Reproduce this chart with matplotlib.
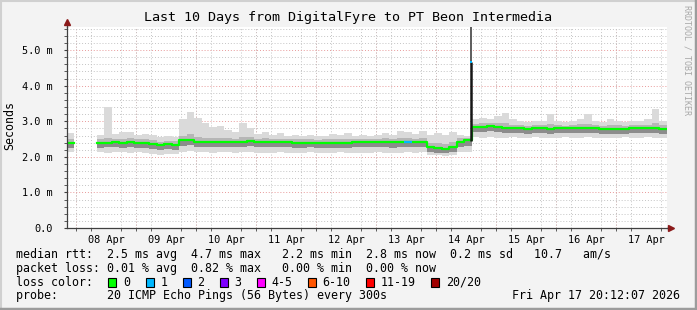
import numpy as np
import pandas as pd
import matplotlib
matplotlib.use('Agg')
import matplotlib.pyplot as plt
import matplotlib.dates as mdates
from matplotlib.ticker import MultipleLocator, FuncFormatter
from matplotlib.patches import Rectangle
from matplotlib.lines import Line2D

plt.rcParams['font.family'] = ['DejaVu Sans Mono']

nan = np.nan
start = pd.Timestamp('2026-04-07 20:12:07')
end = pd.Timestamp('2026-04-17 20:12:07')

# rtt in ms, one value per 3 hour bin (80 bins)
median_ms = [
    2.40, nan, nan, nan, 2.40, 2.40, 2.41, 2.40, 2.41, 2.40,
    2.40, 2.36, 2.34, 2.35, 2.34, 2.46, 2.47, 2.43, 2.42, 2.42,
    2.42, 2.42, 2.42, 2.43, 2.44, 2.42, 2.42, 2.41, 2.41, 2.41,
    2.40, 2.40, 2.40, 2.39, 2.40, 2.39, 2.40, 2.40, 2.41, 2.41,
    2.41, 2.41, 2.41, 2.41, 2.41, 2.41, 2.41, 2.42, 2.29, 2.24,
    2.22, 2.27, 2.43, 2.46, 2.85, 2.85, 2.87, 2.84, 2.82, 2.80,
    2.80, 2.79, 2.80, 2.80, 2.78, 2.80, 2.80, 2.80, 2.81, 2.80,
    2.80, 2.79, 2.78, 2.79, 2.79, 2.80, 2.80, 2.80, 2.81, 2.79]
max_ms = [
    2.67, nan, nan, nan, 2.62, 3.40, 2.65, 2.70, 2.70, 2.62,
    2.65, 2.62, 2.55, 2.58, 2.56, 3.05, 3.25, 3.10, 2.95, 2.85,
    2.87, 2.75, 2.70, 2.95, 2.80, 2.65, 2.70, 2.62, 2.68, 2.60,
    2.62, 2.60, 2.62, 2.58, 2.60, 2.65, 2.62, 2.66, 2.60, 2.62,
    2.60, 2.62, 2.68, 2.62, 2.72, 2.70, 2.65, 2.72, 2.62, 2.68,
    2.62, 2.70, 2.62, 2.60, 3.05, 3.10, 3.05, 3.15, 3.22, 3.05,
    3.00, 2.98, 3.02, 3.00, 3.20, 3.00, 2.98, 3.00, 3.05, 3.20,
    3.00, 2.98, 3.05, 3.00, 2.98, 3.00, 3.02, 3.05, 3.35, 3.00]
min_ms = [
    2.14, nan, nan, nan, 2.13, 2.12, 2.14, 2.13, 2.12, 2.13,
    2.12, 2.08, 2.06, 2.08, 2.08, 2.14, 2.16, 2.14, 2.13, 2.12,
    2.13, 2.14, 2.12, 2.13, 2.14, 2.12, 2.10, 2.12, 2.13, 2.12,
    2.12, 2.11, 2.13, 2.12, 2.10, 2.12, 2.13, 2.12, 2.11, 2.12,
    2.12, 2.13, 2.12, 2.11, 2.12, 2.13, 2.12, 2.13, 2.05, 2.04,
    2.03, 2.05, 2.14, 2.15, 2.55, 2.54, 2.55, 2.53, 2.54, 2.55,
    2.53, 2.54, 2.55, 2.54, 2.52, 2.54, 2.55, 2.53, 2.54, 2.55,
    2.54, 2.53, 2.52, 2.54, 2.55, 2.53, 2.54, 2.55, 2.54, 2.53]
q25_ms = [
    2.26, nan, nan, nan, 2.26, 2.27, 2.27, 2.26, 2.27, 2.26,
    2.26, 2.22, 2.20, 2.21, 2.20, 2.30, 2.32, 2.29, 2.28, 2.28,
    2.28, 2.28, 2.27, 2.29, 2.30, 2.28, 2.27, 2.27, 2.27, 2.27,
    2.26, 2.26, 2.27, 2.25, 2.26, 2.25, 2.26, 2.26, 2.27, 2.27,
    2.27, 2.27, 2.27, 2.26, 2.27, 2.27, 2.27, 2.28, 2.14, 2.12,
    2.10, 2.13, 2.29, 2.31, 2.70, 2.71, 2.72, 2.70, 2.68, 2.66,
    2.66, 2.65, 2.66, 2.66, 2.64, 2.66, 2.66, 2.66, 2.67, 2.66,
    2.66, 2.65, 2.64, 2.65, 2.65, 2.66, 2.66, 2.66, 2.67, 2.65]
q75_ms = [
    2.50, nan, nan, nan, 2.49, 2.52, 2.50, 2.51, 2.52, 2.49,
    2.50, 2.46, 2.43, 2.45, 2.44, 2.60, 2.63, 2.56, 2.54, 2.53,
    2.54, 2.52, 2.51, 2.56, 2.55, 2.51, 2.52, 2.50, 2.51, 2.50,
    2.49, 2.49, 2.50, 2.48, 2.49, 2.50, 2.49, 2.50, 2.50, 2.50,
    2.50, 2.50, 2.52, 2.50, 2.53, 2.52, 2.51, 2.53, 2.40, 2.40,
    2.36, 2.41, 2.52, 2.52, 2.93, 2.95, 2.95, 2.94, 2.94, 2.90,
    2.89, 2.88, 2.90, 2.89, 2.92, 2.89, 2.88, 2.89, 2.91, 2.92,
    2.89, 2.88, 2.89, 2.89, 2.88, 2.89, 2.90, 2.90, 2.95, 2.89]
lost = [0] * 80
lost[45] = 1

# short spike on 14 Apr
spike_time = pd.Timestamp('2026-04-14 14:00')
spike_low, spike_med, spike_max = 2.45, 4.66, 5.65

loss_labels = ['0', '1', '2', '3', '4-5', '6-10', '11-19', '20/20']
loss_colors = ['#00ff00', '#00b8ff', '#0059ff', '#7e00ff', '#ff00ff',
               '#ff5500', '#ff0000', '#a10000']

rtt_avg, rtt_max, rtt_min, rtt_now, rtt_sd, am_s = 2.5, 4.7, 2.2, 2.8, 0.2, 10.7
loss_avg, loss_max, loss_min, loss_now = 0.01, 0.82, 0.00, 0.00

edges = pd.date_range(start, end, periods=81).to_pydatetime()
left = mdates.date2num(edges[:-1])
width = np.diff(mdates.date2num(edges))


def band(lo, hi, color):
    lo = np.array(lo, dtype=float)
    hi = np.array(hi, dtype=float)
    ax.bar(left, hi - lo, bottom=lo, width=width, align='edge', color=color, lw=0)


W, H = 697, 310
fig = plt.figure(figsize=(W / 100, H / 100), dpi=100, facecolor='#f3f3f3')
ax = fig.add_axes([67 / W, 82 / H, 599.5 / W, 201 / H])
ax.set_facecolor('white')
ax.set_axisbelow(True)

# smoke
band(min_ms, max_ms, '#dadada')
band(q25_ms, q75_ms, '#b6b6b6')
band(q25_ms, median_ms, '#8c8c8c')
med_ext = np.append(median_ms, median_ms[-1])
ax.step(edges, med_ext, where='post', color=loss_colors[0], lw=1.6)
for i, n in enumerate(lost):
    if n > 0:
        ax.hlines(median_ms[i], edges[i], edges[i + 1], color=loss_colors[n], lw=1.6)

ax.vlines(spike_time, spike_low, spike_med, color='#161616', lw=1.8)
ax.vlines(spike_time, spike_med, spike_max, color='#505050', lw=1.3)
ax.plot([spike_time], [spike_med], marker='s', ms=1.8, color=loss_colors[1], mew=0)

ax.set_xlim(start, end)
ax.set_ylim(0, 5.65)

# grid
ax.yaxis.set_major_locator(MultipleLocator(1.0))
ax.yaxis.set_minor_locator(MultipleLocator(0.2))
ax.xaxis.set_major_locator(mdates.HourLocator(byhour=12))
ax.xaxis.set_minor_locator(mdates.HourLocator(byhour=[0, 6, 12, 18]))
ax.xaxis.set_major_formatter(mdates.DateFormatter('%d %b'))
ax.yaxis.set_major_formatter(FuncFormatter(lambda v, p: '0.0' if v == 0 else f'{v:.1f} m'))
ax.grid(which='minor', color='#c4c4c4', ls=(0, (1, 2)), lw=0.7)
ax.grid(which='major', axis='y', color='#e89a9a', ls=(0, (1, 2)), lw=0.7)
for d in pd.date_range('2026-04-08', '2026-04-17', freq='D'):
    ax.axvline(d, color='#e89a9a', ls=(0, (1, 2)), lw=0.7, zorder=0.5)

for s in ['top', 'right']:
    ax.spines[s].set_visible(False)
for s in ['left', 'bottom']:
    ax.spines[s].set_color('#404040')
    ax.spines[s].set_linewidth(0.9)
ax.tick_params(axis='x', which='major', length=0, labelsize=7.4, pad=5)
ax.tick_params(axis='x', which='minor', length=2, color='#404040')
ax.tick_params(axis='y', which='both', length=2, color='#404040', labelsize=7.4, pad=8)

# axis arrows
ax.plot([1, 1.008], [0, 0], transform=ax.transAxes, color='#404040', lw=0.9, clip_on=False)
ax.plot([0, 0], [1, 1.025], transform=ax.transAxes, color='#404040', lw=0.9, clip_on=False)
ax.plot(1.008, 0, marker='>', ms=4, color='#8b1a1a', transform=ax.transAxes, clip_on=False)
ax.plot(0, 1.025, marker='^', ms=4, color='#8b1a1a', transform=ax.transAxes, clip_on=False)

fig.text(0.5, 1 - 18 / H, 'Last 10 Days from DigitalFyre to PT Beon Intermedia',
         ha='center', va='center', fontsize=9.6)
fig.text(10 / W, 1 - 125 / H, 'Seconds', rotation=90, ha='center', va='center', fontsize=8.4)
fig.text(687.5 / W, 1 - 5 / H, 'RRDTOOL / TOBI OETIKER', rotation=270, ha='center', va='top',
         fontsize=6.0, color='#a8a8a8')

# legend rows
cw = 7.0
x0 = 16
rows_y = [254.3, 268.3, 282.3, 295.7]
row1 = (f'median rtt:  {rtt_avg:.1f} ms avg  {rtt_max:.1f} ms max   {rtt_min:.1f} ms min  '
        f'{rtt_now:.1f} ms now  {rtt_sd:.1f} ms sd   {am_s:.1f}   am/s')
row2 = (f'packet loss: {loss_avg:.2f} % avg  {loss_max:.2f} % max   {loss_min:.2f} % min  '
        f'{loss_now:.2f} % now')
fig.text(x0 / W, 1 - rows_y[0] / H, row1, va='center', fontsize=8.4)
fig.text(x0 / W, 1 - rows_y[1] / H, row2, va='center', fontsize=8.4)
fig.text(x0 / W, 1 - rows_y[2] / H, 'loss color:', va='center', fontsize=8.4)
pos = 13.2
for lab, col in zip(loss_labels, loss_colors):
    bx = x0 + pos * cw
    fig.add_artist(Rectangle((bx / W, (H - rows_y[2] - 4.5) / H), 8 / W, 8.5 / H,
                             transform=fig.transFigure, facecolor=col, edgecolor='black', lw=0.8))
    fig.text((bx + 2.1 * cw) / W, 1 - rows_y[2] / H, lab, va='center', fontsize=8.4)
    pos += 4.3 + len(lab)
fig.text(x0 / W, 1 - rows_y[3] / H, 'probe:       20 ICMP Echo Pings (56 Bytes) every 300s',
         va='center', fontsize=8.4)
fig.text(680 / W, 1 - rows_y[3] / H, 'Fri Apr 17 20:12:07 2026', ha='right', va='center', fontsize=8.4)

# frame
fig.add_artist(Line2D([0, 1], [1 - 1 / H, 1 - 1 / H], transform=fig.transFigure, color='#d0d0d0', lw=1.5))
fig.add_artist(Line2D([1 / W, 1 / W], [0, 1], transform=fig.transFigure, color='#d0d0d0', lw=1.5))
fig.add_artist(Line2D([0, 1], [1.5 / H, 1.5 / H], transform=fig.transFigure, color='#9c9c9c', lw=2.5))
fig.add_artist(Line2D([1 - 1.5 / W, 1 - 1.5 / W], [0, 1], transform=fig.transFigure, color='#9c9c9c', lw=2.5))

fig.savefig('out.png', dpi=100, facecolor=fig.get_facecolor())
